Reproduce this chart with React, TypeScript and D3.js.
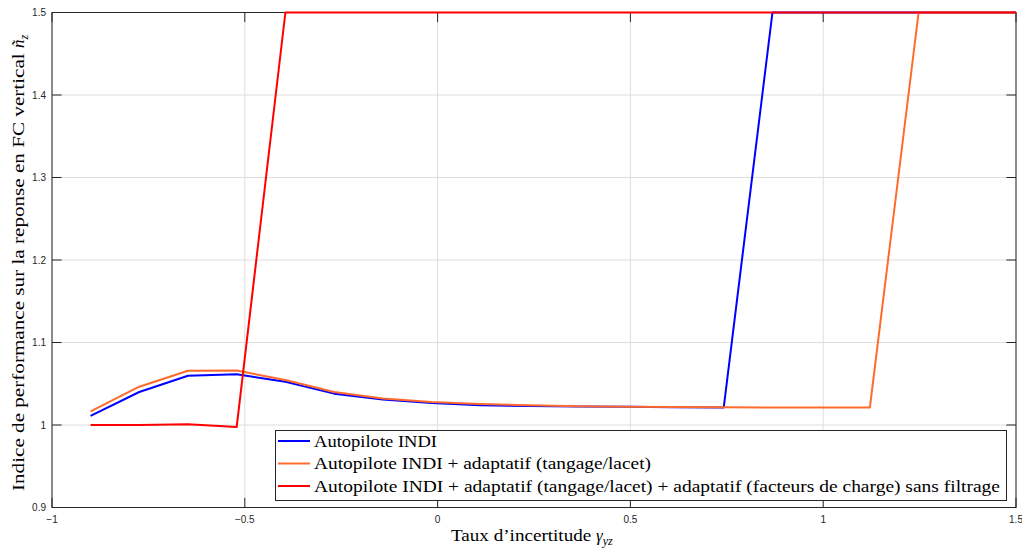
import React from "react";
import * as d3 from "d3";

const xVals = [-0.9, -0.7737, -0.6474, -0.5211, -0.3947, -0.2684, -0.1421, -0.0158, 0.1105, 0.2368, 0.3632, 0.4895, 0.6158, 0.7421, 0.8684, 0.9947, 1.1211, 1.2474, 1.3737, 1.5];
const blueVals = [1.011, 1.040, 1.0597, 1.0614, 1.0524, 1.038, 1.031, 1.0266, 1.024, 1.023, 1.0225, 1.022, 1.0215, 1.0213, 1.5, 1.5, 1.5, 1.5, 1.5, 1.5];
const orangeVals = [1.0165, 1.0464, 1.0657, 1.066, 1.0545, 1.040, 1.032, 1.0278, 1.0254, 1.0238, 1.0228, 1.0222, 1.0218, 1.0215, 1.0213, 1.0213, 1.0213, 1.5, 1.5, 1.5];
const redVals = [1.0, 1.0, 1.001, 0.9975, 1.5, 1.5, 1.5, 1.5, 1.5, 1.5, 1.5, 1.5, 1.5, 1.5, 1.5, 1.5, 1.5, 1.5, 1.5, 1.5];
const xTicks = [-1, -0.5, 0, 0.5, 1, 1.5];
const yTicks = [0.9, 1.0, 1.1, 1.2, 1.3, 1.4, 1.5];
const seriesNames = [
  "Autopilote INDI",
  "Autopilote INDI + adaptatif (tangage/lacet)",
  "Autopilote INDI + adaptatif (tangage/lacet) + adaptatif (facteurs de charge) sans filtrage",
];
const seriesColors = ["#0000ff", "#ff6b2d", "#ff0000"];

export default function App() {
  const W = 1022, H = 550;
  const L = 52, R = 1016, T = 12.5, B = 507.5;
  const x = d3.scaleLinear().domain([-1, 1.5]).range([L, R]);
  const y = d3.scaleLinear().domain([0.9, 1.5]).range([B, T]);
  const line = d3.line<[number, number]>().x((d) => x(d[0])).y((d) => y(d[1]));
  const series = [blueVals, orangeVals, redVals];
  const axisColor = "#262626";
  const tickLen = 9.6;
  const fmt = (v: number) => d3.format("~g")(+v.toFixed(2));
  const serif = "'Liberation Serif', 'DejaVu Serif', serif";
  const sans = "'Liberation Sans', Arial, sans-serif";

  const legX = 275.5, legY = 430.5, legW = 731, legH = 70;
  const rowY = [441, 463.5, 486];
  const legLens = [123, 337, 686];

  return (
    <svg width={W} height={H} style={{ position: "absolute", left: 0, top: 0, background: "#fff" }}>
      <rect x={0} y={0} width={W} height={H} fill="#fff" />
      {xTicks.map((t) => (
        <line key={"gx" + t} x1={x(t)} x2={x(t)} y1={T} y2={B} stroke="#dedede" strokeWidth={1} />
      ))}
      {yTicks.map((t) => (
        <line key={"gy" + t} x1={L} x2={R} y1={y(t)} y2={y(t)} stroke="#dedede" strokeWidth={1} />
      ))}
      {xTicks.map((t) => (
        <g key={"tx" + t}>
          <line x1={x(t)} x2={x(t)} y1={B} y2={B - tickLen} stroke={axisColor} strokeWidth={1} />
          <line x1={x(t)} x2={x(t)} y1={T} y2={T + tickLen} stroke={axisColor} strokeWidth={1} />
          <text x={x(t)} y={523} textAnchor="middle" fontFamily={sans} fontSize={10} fill={axisColor}>{fmt(t)}</text>
        </g>
      ))}
      {yTicks.map((t) => (
        <g key={"ty" + t}>
          <line x1={L} x2={L + tickLen} y1={y(t)} y2={y(t)} stroke={axisColor} strokeWidth={1} />
          <line x1={R} x2={R - tickLen} y1={y(t)} y2={y(t)} stroke={axisColor} strokeWidth={1} />
          <text x={46} y={y(t) + 3.5} textAnchor="end" fontFamily={sans} fontSize={10} fill={axisColor}>{fmt(t)}</text>
        </g>
      ))}
      <rect x={L} y={T} width={R - L} height={B - T} fill="none" stroke={axisColor} strokeWidth={1} />
      {series.map((vals, i) => (
        <path key={"s" + i} d={line(xVals.map((xv, j) => [xv, vals[j]]) as [number, number][]) || ""} fill="none" stroke={seriesColors[i]} strokeWidth={2} strokeLinejoin="round" />
      ))}
      <rect x={legX} y={legY} width={legW} height={legH} fill="#fff" stroke={axisColor} strokeWidth={1} />
      {seriesNames.map((n, i) => (
        <g key={"l" + i}>
          <line x1={278} x2={310} y1={rowY[i]} y2={rowY[i]} stroke={seriesColors[i]} strokeWidth={2} />
          <text x={314} y={rowY[i] + 5.5} fontFamily={serif} fontSize={17.5} fill="#000" textLength={legLens[i]} lengthAdjust="spacingAndGlyphs">{n}</text>
        </g>
      ))}
      <text x={451} y={541} fontFamily={serif} fontSize={17} fill="#000">
        <tspan textLength={145} lengthAdjust="spacingAndGlyphs">Taux d’incertitude </tspan>
        <tspan fontStyle="italic">γ</tspan>
        <tspan fontStyle="italic" fontSize={12} dy={4}>yz</tspan>
      </text>
      <text transform={`translate(24, 491) rotate(-90)`} fontFamily={serif} fontSize={17} fill="#000">
        <tspan textLength={443} lengthAdjust="spacingAndGlyphs">Indice de performance sur la reponse en FC vertical </tspan>
        <tspan fontStyle="italic">ñ</tspan>
        <tspan fontStyle="italic" fontSize={12} dy={4}>z</tspan>
      </text>
    </svg>
  );
}
